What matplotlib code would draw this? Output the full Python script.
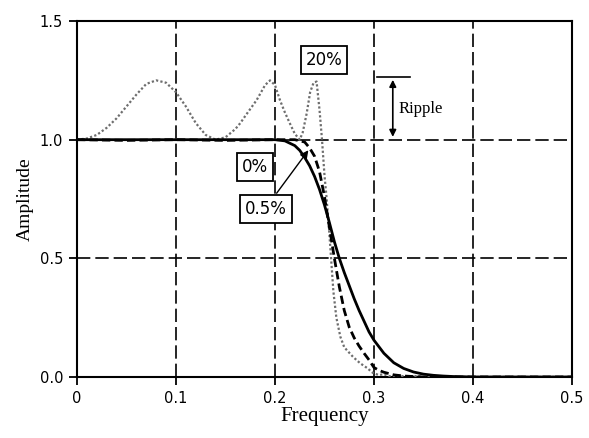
import matplotlib
matplotlib.use("Agg")
import matplotlib.pyplot as plt

# 0% ripple (solid)
freq_0 = [0, 0.1, 0.2, 0.21, 0.22, 0.225, 0.23, 0.235, 0.24, 0.245, 0.25, 0.255, 0.26, 0.265, 0.27,
          0.275, 0.28, 0.285, 0.29, 0.295, 0.30, 0.31, 0.32, 0.33, 0.34, 0.35, 0.36, 0.37, 0.38, 0.40, 0.5]
amp_0 = [1.0, 1.0, 1.0, 0.995, 0.975, 0.955, 0.925, 0.89, 0.845, 0.79, 0.725, 0.65, 0.57, 0.5, 0.44,
         0.385, 0.33, 0.28, 0.235, 0.19, 0.155, 0.10, 0.06, 0.036, 0.021, 0.012, 0.007, 0.004, 0.002, 0.0, 0.0]

# 0.5% ripple (dashed)
freq_05 = [0, 0.05, 0.1, 0.15, 0.2, 0.22, 0.23, 0.235, 0.24, 0.245, 0.25, 0.255, 0.26, 0.265, 0.27,
           0.275, 0.28, 0.285, 0.29, 0.295, 0.30, 0.305, 0.31, 0.32, 0.33, 0.34, 0.35, 0.5]
amp_05 = [1.0, 0.997, 1.0, 0.997, 1.0, 1.0, 0.99, 0.965, 0.93, 0.865, 0.76, 0.63, 0.5, 0.38, 0.28,
          0.21, 0.165, 0.13, 0.1, 0.072, 0.04, 0.028, 0.02, 0.009, 0.004, 0.002, 0.0, 0.0]

# 20% ripple (dotted)
freq_20 = [0, 0.01, 0.02, 0.03, 0.04, 0.05, 0.06, 0.07, 0.08, 0.09, 0.10, 0.11, 0.12, 0.13, 0.14,
           0.15, 0.16, 0.165, 0.17, 0.1815, 0.19, 0.195, 0.2, 0.205, 0.21, 0.215, 0.22, 0.225,
           0.228, 0.232, 0.2355, 0.239, 0.242, 0.245, 0.2475, 0.25, 0.252, 0.255, 0.257, 0.259,
           0.262, 0.266, 0.27, 0.279, 0.286, 0.293, 0.299, 0.305, 0.31, 0.315, 0.32, 0.325, 0.33,
           0.335, 0.34, 0.35, 0.5]
amp_20 = [1.0, 1.005, 1.02, 1.05, 1.09, 1.14, 1.19, 1.235, 1.25, 1.24, 1.2, 1.14, 1.07, 1.02, 1.0,
          1.01, 1.045, 1.07, 1.1, 1.167, 1.23, 1.25, 1.23, 1.167, 1.115, 1.069, 1.025, 1.0,
          1.03, 1.11, 1.2, 1.24, 1.245, 1.125, 1.0, 0.85, 0.76, 0.6, 0.48, 0.36,
          0.25, 0.17, 0.125, 0.084, 0.058, 0.038, 0.017, 0.008, 0.012, 0.004, 0.0, 0.008, 0.002,
          0.0, 0.005, 0.0, 0.0]

xticks = [0, 0.1, 0.2, 0.3, 0.4, 0.5]
xtick_labels = ["0", "0.1", "0.2", "0.3", "0.4", "0.5"]
yticks = [0.0, 0.5, 1.0, 1.5]
ytick_labels = ["0.0", "0.5", "1.0", "1.5"]

fig = plt.figure(figsize=(5.89, 4.38), dpi=100)
ax = fig.add_axes([0.1307, 0.1393, 0.8404, 0.8127])

# grid
for x in xticks[1:-1]:
    ax.axvline(x, color="black", lw=1.2, dashes=(8, 3), zorder=1)
for y in [0.5, 1.0]:
    ax.axhline(y, color="black", lw=1.2, dashes=(8, 3), zorder=1)

ax.plot(freq_20, amp_20, color="#6e6e6e", lw=1.6, ls=(0, (1, 1)), zorder=3)
ax.plot(freq_05, amp_05, color="black", lw=2.0, ls=(0, (3, 1.5)), zorder=4)
ax.plot(freq_0, amp_0, color="black", lw=2.0, zorder=5)

ax.set_xlim(0, 0.5)
ax.set_ylim(0, 1.5)
ax.set_xticks(xticks)
ax.set_xticklabels(xtick_labels)
ax.set_yticks(yticks)
ax.set_yticklabels(ytick_labels)
ax.tick_params(direction="out", length=6, width=1.3, labelsize=10.5, pad=4)
for s in ax.spines.values():
    s.set_linewidth(1.5)

ax.set_xlabel("Frequency", family="Liberation Serif", fontsize=15, labelpad=1)
ax.set_ylabel("Amplitude", family="Liberation Serif", fontsize=14, labelpad=4)

# labels
box = dict(boxstyle="square,pad=0.3", fc="white", ec="black", lw=1.3)
ax.text(0.2495, 1.336, "20%", ha="center", va="center", fontsize=12, bbox=box, zorder=6)
ax.text(0.18, 0.885, "0%", ha="center", va="center", fontsize=12, bbox=box, zorder=6)
ax.text(0.191, 0.708, "0.5%", ha="center", va="center", fontsize=12, bbox=box, zorder=6)
ax.annotate("", xy=(0.2354, 0.965), xytext=(0.2, 0.765),
            arrowprops=dict(arrowstyle="-|>", color="black", lw=1.0, mutation_scale=12), zorder=6)

# ripple marker
ax.plot([0.303, 0.336], [1.264, 1.264], color="black", lw=1.2)
ax.annotate("", xy=(0.319, 1.0), xytext=(0.319, 1.264),
            arrowprops=dict(arrowstyle="<|-|>", color="black", lw=1.2, mutation_scale=10))
ax.text(0.325, 1.13, "Ripple", family="Liberation Serif", fontsize=12, va="center", ha="left")

fig.savefig("out.png", dpi=100)
